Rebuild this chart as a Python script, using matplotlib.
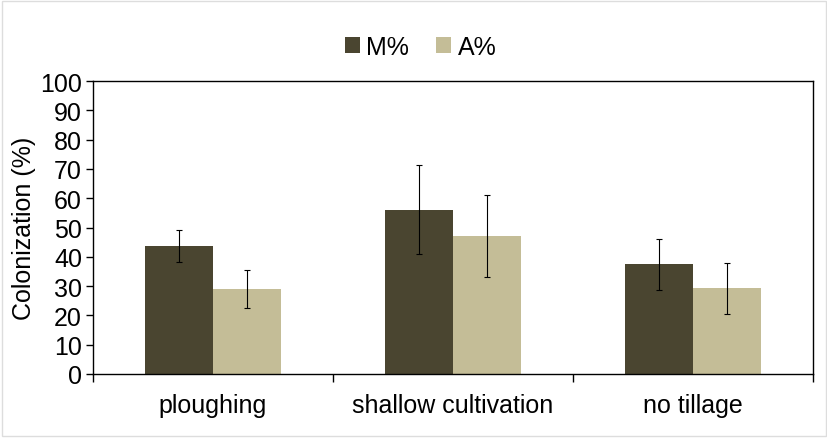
import matplotlib.pyplot as plt
import numpy as np
from matplotlib.patches import Rectangle

plt.rcParams['font.family'] = ['Liberation Sans', 'DejaVu Sans']

categories = ['ploughing', 'shallow cultivation', 'no tillage']
m_values = [43.6, 56.0, 37.4]
m_err = [5.5, 15.2, 8.6]
a_values = [28.9, 47.0, 29.2]
a_err = [6.5, 14.0, 8.6]

dark = '#4a4530'
tan = '#c4bd97'

fig = plt.figure(figsize=(8.28, 4.39), dpi=100)
ax = fig.add_axes([93 / 828, 64 / 439, 720 / 828, 293 / 439])

x = np.arange(len(categories))
w = 0.284
err_kw = dict(elinewidth=0.8, capsize=2.5, capthick=0.8, ecolor='black')
ax.bar(x - w / 2, m_values, w, color=dark, label='M%', yerr=m_err, error_kw=err_kw)
ax.bar(x + w / 2, a_values, w, color=tan, label='A%', yerr=a_err, error_kw=err_kw)

ax.set_xlim(-0.5, len(categories) - 0.5)
ax.set_ylim(0, 100)
ax.set_yticks(range(0, 101, 10))
ax.set_xticks(np.arange(len(categories) + 1) - 0.5)
ax.set_xticklabels([])
ax.set_xticks(x, minor=True)
ax.set_xticklabels(categories, minor=True)
ax.tick_params(axis='x', which='minor', length=0, pad=14, labelsize=18)
ax.tick_params(axis='x', which='major', direction='out', length=6, width=1)
ax.tick_params(axis='y', direction='out', length=5, width=1, labelsize=18, pad=3)
ax.set_ylabel('Colonization (%)', fontsize=18, labelpad=3)
for s in ax.spines.values():
    s.set_linewidth(1)

fig.legend(loc='upper center', bbox_to_anchor=(0.508, 0.97), ncol=2, frameon=False,
           fontsize=18, handlelength=0.6, handleheight=0.6, handletextpad=0.25,
           columnspacing=1.1)

fig.patches.append(Rectangle((0.003, 0.005), 0.994, 0.99, transform=fig.transFigure,
                             fill=False, edgecolor='#dddddd', linewidth=1))

fig.savefig('out.png', dpi=100)
